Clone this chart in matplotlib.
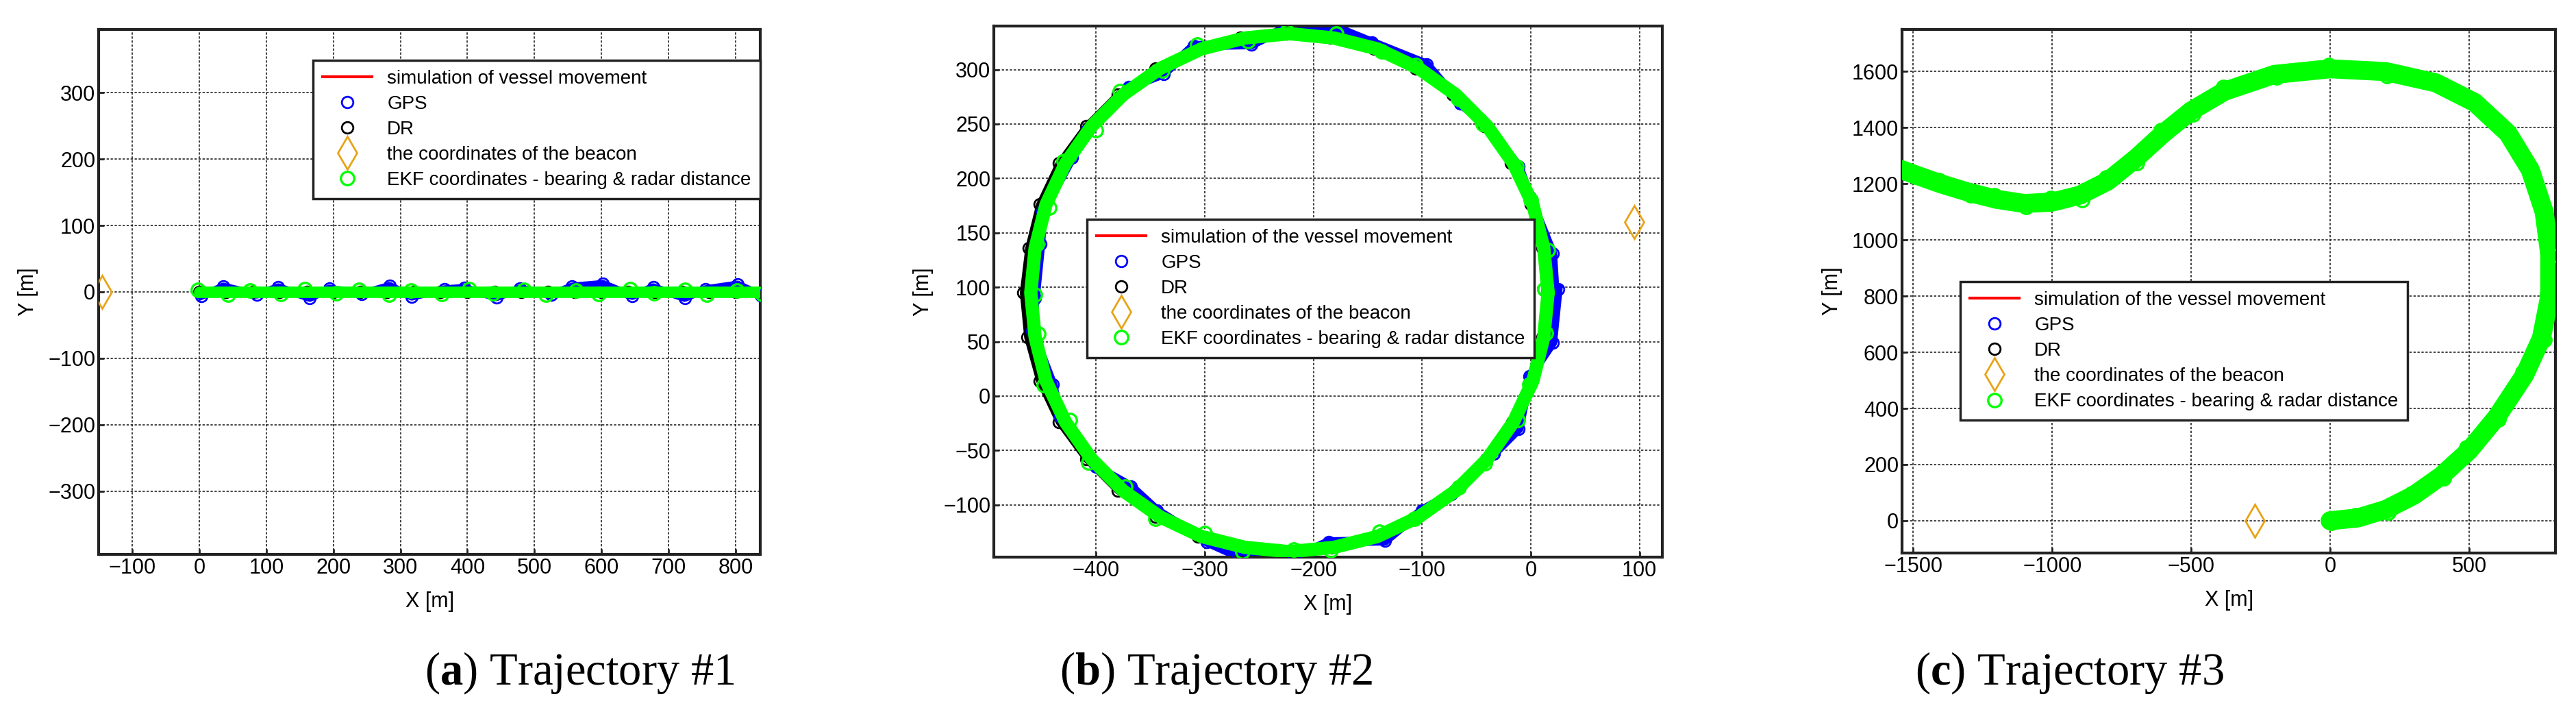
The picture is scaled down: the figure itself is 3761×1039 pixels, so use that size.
import matplotlib
matplotlib.use('Agg')
import matplotlib.pyplot as plt
import numpy as np

plt.rcParams['font.family'] = ['Liberation Sans', 'DejaVu Sans']
plt.rcParams['mathtext.fontset'] = 'custom'
plt.rcParams['mathtext.rm'] = 'Liberation Serif'
plt.rcParams['mathtext.bf'] = 'Liberation Serif:bold'

# trajectory 1: straight run along the X axis
t1_x = [0, 40, 80, 120, 160, 200, 240, 280, 320, 360, 400, 440, 480, 520, 560, 600, 640, 680, 720, 760, 800, 840]
t1_y = [0] * 22
t1_gps_dx = [3, -4, 6, -2, 5, -6, 2, 4, -3, 6, -5, 3, -2, 5, -4, 2, 6, -3, 4, -5, 3, -2]
t1_gps_dy = [-6, 8, -4, 7, -9, 5, -3, 9, -7, 4, 6, -8, 5, -4, 8, 12, -6, 7, -9, 4, 11, -5]
t1_ekf_dx = [-2, 3, -4, 2, -3, 4, -2, 3, -4, 2, 3, -2, 4, -3, 2, -4, 3, -2, 4, -3, 2, 0]
t1_ekf_dy = [3, -4, 2, -3, 4, -2, 3, -4, 2, -3, 4, -2, 3, -4, 2, -3, 4, -2, 3, -4, 2, -3]
t1_beacon = (-145, 0)

# trajectory 2: circle
t2_x = [16, 12, 2, -16, -40, -69, -103, -141, -181, -222, -263, -303, -341, -375, -404, -428, -446, -456,
        -460, -456, -446, -428, -404, -375, -341, -303, -263, -222, -181, -141, -103, -69, -40, -16, 2, 12, 16]
t2_y = [95, 136, 176, 214, 248, 277, 301, 319, 329, 333, 329, 319, 301, 277, 248, 214, 176, 136,
        95, 54, 14, -24, -58, -87, -111, -129, -139, -143, -139, -129, -111, -87, -58, -24, 14, 54, 95]
t2_gps_dx = [6, 8, -3, 5, -6, 4, 7, -5, 3, -4, 6, -7, 3, 5, -4, 6, -3, 5, 4, -3, 6, -5, 4, 7, -3, 5,
             -6, 4, -5, 7, 3, -4, 6, 5, -3, 8, 9]
t2_gps_dy = [4, -5, 7, -3, 6, -8, 4, 6, 9, 5, -6, 3, -5, 7, -4, 5, -6, 4, -5, 6, -3, 5, -7, 4, 6,
             -5, -8, -6, 5, -4, 6, -3, 5, -6, 4, -5, 3]
t2_ekf_dx = [-3, 4, -2, 3, -4, 2, -3, 4, 2, -2, 3, -4, 2, -3, 4, -2, 3, 2, 4, 3, -2, 4, -3, 2,
             -4, 3, -2, 4, -3, 2, -4, 3, -2, 4, -3, 2, -3]
t2_ekf_dy = [3, -2, 4, -3, 2, -4, 3, -2, 4, 2, -3, 4, -2, 3, -4, 2, -3, 4, -2, 3, -4, 2, -3, 4,
             -2, 3, -4, 2, -3, 4, -2, 3, -4, 2, -3, 4, 3]
t2_dr_dx = [-1, -1, -2, -2, -3, -3, -3, -3, -3, -3, -4, -4, -4, -5, -5, -6, -6, -6,
            -7, -7, -6, -6, -5, -5, -4, -3, -3, -2, -2, -2, -1, -1, -1, -1, -1, -1, -1]
t2_beacon = (95, 160)

# trajectory 3: S-shaped route
t3_x = [0, 100, 200, 300, 400, 500, 600, 700, 760, 790, 790, 770, 720, 640, 520, 380, 200, 0,
        -200, -380, -500, -600, -700, -800, -900, -1000, -1100, -1200, -1300, -1400, -1500, -1540]
t3_y = [0, 10, 40, 90, 160, 250, 370, 520, 650, 800, 950, 1100, 1250, 1380, 1490, 1560, 1600, 1610,
        1590, 1530, 1460, 1380, 1290, 1210, 1160, 1135, 1130, 1145, 1170, 1200, 1235, 1250]
t3_ekf_dx = [6, -8, 10, -6, 8, -10, 6, -8, 10, -9, 11, -8, 9, -10, 6, -8, 5, -6,
             8, -5, 6, -8, 5, -6, 8, -5, 6, -8, 5, -6, 8, 3]
t3_ekf_dy = [-8, 10, -12, 8, -10, 12, -8, 10, -5, 8, -6, 9, -10, 8, -12, 10, -15, 12,
             -10, 15, -12, 10, -15, 12, -18, 15, -12, 15, -10, 12, -10, -8]
t3_beacon = (-270, 0)

LEG_LABELS_1 = ['simulation of vessel movement', 'GPS', 'DR',
                'the coordinates of the beacon', 'EKF coordinates - bearing & radar distance']
LEG_LABELS_2 = ['simulation of the vessel movement', 'GPS', 'DR',
                'the coordinates of the beacon', 'EKF coordinates - bearing & radar distance']

GREEN = '#00ff00'
ORANGE = '#e8a317'
FS = 20


def draw(ax, x, y, gps_x, gps_y, dr_x, dr_y, ekf_x, ekf_y, beacon, band, labels):
    ax.plot(x, y, color='red', lw=3, label=labels[0], zorder=2)
    ax.plot(gps_x, gps_y, color='blue', lw=band * 0.7, zorder=2, solid_joinstyle='round')
    ax.plot(gps_x, gps_y, 'o', mfc='none', mec='blue', ms=12, mew=2, label=labels[1], zorder=3)
    ax.plot(dr_x, dr_y, color='black', lw=band * 0.5, zorder=2, solid_joinstyle='round')
    ax.plot(dr_x, dr_y, 'o', mfc='none', mec='black', ms=12, mew=2, label=labels[2], zorder=1)
    ax.plot([beacon[0]], [beacon[1]], 'd', mfc='none', mec=ORANGE, ms=24, mew=2,
            label=labels[3], zorder=4)
    ax.plot(x, y, color=GREEN, lw=band, zorder=4, solid_joinstyle='round', solid_capstyle='round')
    ax.plot(ekf_x, ekf_y, 'o', mfc='none', mec=GREEN, ms=14, mew=2.4, label=labels[4], zorder=5)
    ax.grid(True, color='#222222', ls=(0, (2, 1.5)), lw=1.2)
    for s in ax.spines.values():
        s.set_linewidth(3)
        s.set_color('#222222')
    ax.tick_params(labelsize=22, length=6, width=2, direction='in', color='#222222')
    ax.set_xlabel('X [m]', fontsize=22, labelpad=14)
    ax.set_ylabel('Y [m]', fontsize=22, labelpad=10)


fig = plt.figure(figsize=(37.62, 10.39), dpi=100)
ax1 = fig.add_axes([0.0383, 0.2214, 0.2568, 0.7372])
ax2 = fig.add_axes([0.3857, 0.2175, 0.2594, 0.7459])
ax3 = fig.add_axes([0.7382, 0.2233, 0.2536, 0.7353])

a = np.array
draw(ax1, t1_x, t1_y,
     a(t1_x) + a(t1_gps_dx), a(t1_y) + a(t1_gps_dy),
     t1_x, t1_y,
     a(t1_x) + a(t1_ekf_dx), a(t1_y) + a(t1_ekf_dy),
     t1_beacon, 12, LEG_LABELS_1)
ax1.set_xlim(-150, 837)
ax1.set_ylim(-395, 395)
ax1.set_xticks(range(-100, 801, 100))
ax1.set_yticks(range(-300, 301, 100))

draw(ax2, t2_x, t2_y,
     a(t2_x) + a(t2_gps_dx), a(t2_y) + a(t2_gps_dy),
     a(t2_x) + a(t2_dr_dx), t2_y,
     a(t2_x) + a(t2_ekf_dx), a(t2_y) + a(t2_ekf_dy),
     t2_beacon, 14, LEG_LABELS_2)
ax2.set_xlim(-494, 121)
ax2.set_ylim(-148, 340)
ax2.set_xticks(range(-400, 101, 100))
ax2.set_yticks(range(-100, 301, 50))

draw(ax3, t3_x, t3_y,
     t3_x, t3_y,
     a(t3_x) - 6, t3_y,
     a(t3_x) + a(t3_ekf_dx), a(t3_y) + a(t3_ekf_dy),
     t3_beacon, 20, LEG_LABELS_2)
ax3.set_xlim(-1540, 811)
ax3.set_ylim(-115, 1750)
ax3.set_xticks(range(-1500, 501, 500))
ax3.set_yticks(range(0, 1601, 200))

W, H = 3762, 1039
for ax, (lx, ly) in [(ax1, (443, 74)), (ax2, (1573, 306)), (ax3, (2848, 397))]:
    leg = ax.legend(loc='upper left', bbox_to_anchor=(lx / W, 1 - ly / H),
                    bbox_transform=fig.transFigure, fontsize=FS, fancybox=False,
                    framealpha=1, edgecolor='#222222', borderpad=0.5, labelspacing=0.4,
                    handlelength=2.6)
    leg.get_frame().set_linewidth(2.5)
    leg.set_zorder(10)

for cx, letter, n in [(0.225, 'a', 1), (0.472, 'b', 2), (0.803, 'c', 3)]:
    fig.text(cx, 0.055, r'($\mathbf{%s}$) Trajectory #%d' % (letter, n), ha='center', va='center',
             fontsize=48, family='Liberation Serif')

fig.savefig('out.png', dpi=100)
